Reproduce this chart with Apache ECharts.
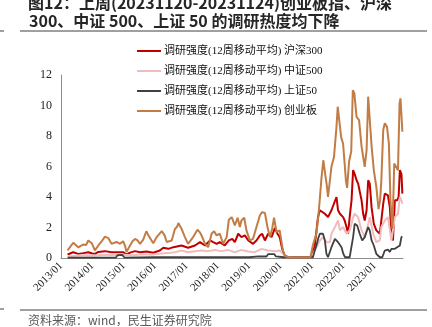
<!DOCTYPE html>
<html>
<head>
<meta charset="utf-8">
<script src="https://cdn.jsdelivr.net/npm/echarts@6/dist/echarts.min.js"></script>
<style>html,body{margin:0;padding:0;background:#fff;}#c{width:432px;height:327px;}</style>
</head>
<body>
<div id="c"></div>
<script>
// x = decimal year, y = research intensity (12-week moving average)
const seriesNames = ['调研强度(12周移动平均) 沪深300','调研强度(12周移动平均) 中证500','调研强度(12周移动平均) 上证50','调研强度(12周移动平均) 创业板'];
const yTicks = [0,2,4,6,8,10,12];
const yearTicks = [2013,2014,2015,2016,2017,2018,2019,2020,2021,2022,2023];

const hs300 = [[2013.21,0.23],[2013.39,0.38],[2013.55,0.27],[2013.71,0.32],[2013.87,0.38],[2014.0,0.3],[2014.08,0.27],[2014.19,0.4],[2014.4,0.45],[2014.61,0.38],[2014.82,0.38],[2014.98,0.38],[2015.09,0.23],[2015.2,0.35],[2015.36,0.45],[2015.52,0.38],[2015.72,0.42],[2015.94,0.34],[2016.15,0.49],[2016.26,0.67],[2016.42,0.6],[2016.58,0.71],[2016.63,0.71],[2016.84,0.82],[2017.05,0.67],[2017.27,0.82],[2017.43,1.04],[2017.59,0.82],[2017.75,1.15],[2017.85,1.04],[2017.96,0.93],[2018.06,1.04],[2018.22,0.82],[2018.35,1.15],[2018.46,1.26],[2018.54,1.04],[2018.65,1.59],[2018.75,1.37],[2018.86,1.48],[2018.97,1.15],[2019.12,0.93],[2019.23,1.15],[2019.34,1.48],[2019.41,1.59],[2019.5,1.15],[2019.6,1.59],[2019.71,1.37],[2019.82,1.98],[2019.9,1.59],[2019.97,1.37],[2020.05,0.6],[2020.13,0.16],[2020.24,0.05],[2020.5,0.05],[2020.98,0.05],[2021.09,0.82],[2021.19,2.68],[2021.25,3.13],[2021.3,3.0],[2021.41,2.9],[2021.51,2.68],[2021.62,3.13],[2021.67,3.2],[2021.78,4.0],[2021.83,3.13],[2021.89,2.9],[2021.94,3.0],[2021.99,2.68],[2022.04,2.46],[2022.1,2.03],[2022.15,1.59],[2022.2,2.68],[2022.26,3.78],[2022.31,5.76],[2022.36,5.5],[2022.42,5.1],[2022.47,4.88],[2022.52,4.88],[2022.58,3.78],[2022.63,2.9],[2022.68,2.46],[2022.74,3.13],[2022.79,5.1],[2022.84,4.88],[2022.9,3.3],[2022.97,2.24],[2023.05,1.81],[2023.16,1.59],[2023.21,2.46],[2023.27,3.56],[2023.32,4.22],[2023.42,4.1],[2023.48,3.34],[2023.53,1.59],[2023.58,1.15],[2023.64,3.78],[2023.71,3.78],[2023.76,4.0],[2023.8,5.76],[2023.85,5.5],[2023.88,4.22]];

const zz500 = [[2013.21,0.1],[2013.5,0.15],[2013.8,0.18],[2014.1,0.16],[2014.4,0.22],[2014.7,0.2],[2015.0,0.22],[2015.3,0.18],[2015.6,0.25],[2015.9,0.22],[2016.2,0.3],[2016.5,0.35],[2016.63,0.38],[2016.84,0.49],[2017.05,0.38],[2017.27,0.45],[2017.48,0.49],[2017.69,0.45],[2017.9,0.53],[2018.11,0.45],[2018.32,0.53],[2018.54,0.38],[2018.75,0.53],[2018.97,0.42],[2019.18,0.38],[2019.39,0.6],[2019.6,0.49],[2019.82,0.45],[2019.97,0.49],[2020.08,0.27],[2020.18,0.05],[2020.5,0.05],[2020.98,0.05],[2021.14,0.71],[2021.25,1.15],[2021.35,1.37],[2021.46,1.04],[2021.57,1.04],[2021.62,1.59],[2021.73,2.03],[2021.83,2.46],[2021.89,1.81],[2021.99,2.03],[2022.1,1.59],[2022.2,1.81],[2022.26,2.24],[2022.31,2.68],[2022.36,2.9],[2022.47,2.68],[2022.58,1.81],[2022.68,1.37],[2022.74,1.81],[2022.79,2.24],[2022.84,2.68],[2022.95,1.59],[2023.05,1.04],[2023.16,1.15],[2023.21,2.03],[2023.32,2.46],[2023.42,2.68],[2023.53,1.15],[2023.58,1.15],[2023.64,2.68],[2023.74,2.9],[2023.8,4.0],[2023.85,3.78],[2023.88,3.56]];

const sz50 = [[2013.21,0.03],[2014.0,0.03],[2014.75,0.03],[2014.8,0.18],[2014.95,0.2],[2015.02,0.03],[2016.0,0.05],[2017.0,0.05],[2018.0,0.06],[2019.0,0.05],[2019.3,0.1],[2019.55,0.1],[2019.6,0.25],[2019.8,0.25],[2019.85,0.1],[2020.1,0.05],[2020.95,0.05],[2021.03,0.05],[2021.09,0.5],[2021.14,0.82],[2021.2,1.3],[2021.25,1.59],[2021.35,1.59],[2021.41,1.15],[2021.46,0.27],[2021.51,0.05],[2021.62,0.71],[2021.73,1.26],[2021.83,1.04],[2021.94,0.71],[2022.0,0.27],[2022.05,0.05],[2022.2,0.05],[2022.31,1.37],[2022.36,2.24],[2022.44,2.13],[2022.52,1.59],[2022.6,1.15],[2022.68,1.37],[2022.79,2.03],[2022.84,1.81],[2022.9,1.15],[2022.97,0.82],[2023.05,0.27],[2023.16,0.05],[2023.24,0.05],[2023.32,0.49],[2023.42,0.55],[2023.48,0.4],[2023.53,0.6],[2023.64,0.6],[2023.69,0.71],[2023.8,0.82],[2023.85,1.37],[2023.88,1.4]];

const cyb = [[2013.21,0.5],[2013.39,1.0],[2013.47,0.85],[2013.55,0.7],[2013.63,0.8],[2013.71,0.88],[2013.8,0.85],[2013.87,1.15],[2013.93,1.05],[2013.98,0.97],[2014.04,0.7],[2014.08,0.5],[2014.19,0.82],[2014.3,1.1],[2014.4,1.4],[2014.46,1.35],[2014.51,1.3],[2014.61,0.93],[2014.7,1.0],[2014.77,1.05],[2014.83,0.95],[2014.88,0.93],[2014.98,1.1],[2015.04,0.8],[2015.09,0.4],[2015.2,0.82],[2015.28,1.1],[2015.36,1.25],[2015.44,1.15],[2015.52,0.93],[2015.62,1.2],[2015.72,1.75],[2015.78,1.5],[2015.83,1.37],[2015.94,0.97],[2016.05,1.37],[2016.21,1.76],[2016.3,1.5],[2016.37,1.05],[2016.45,1.1],[2016.53,1.15],[2016.63,1.9],[2016.7,2.05],[2016.74,2.29],[2016.84,1.92],[2016.95,1.37],[2017.05,0.93],[2017.21,1.37],[2017.35,1.85],[2017.42,1.7],[2017.48,1.48],[2017.59,0.93],[2017.69,0.71],[2017.8,1.59],[2017.88,1.76],[2017.96,1.48],[2018.06,1.59],[2018.17,0.93],[2018.28,1.37],[2018.35,2.51],[2018.44,2.68],[2018.54,2.14],[2018.63,2.64],[2018.7,2.03],[2018.75,2.46],[2018.84,2.64],[2018.91,1.81],[2019.02,1.15],[2019.12,1.26],[2019.23,2.03],[2019.34,2.8],[2019.41,3.01],[2019.5,2.95],[2019.58,2.03],[2019.66,1.37],[2019.73,1.92],[2019.79,2.64],[2019.87,1.7],[2019.97,1.81],[2020.03,1.04],[2020.08,0.38],[2020.16,0.1],[2020.3,0.05],[2020.5,0.05],[2020.7,0.05],[2020.95,0.05],[2021.03,0.85],[2021.14,1.6],[2021.2,2.7],[2021.25,3.9],[2021.3,5.2],[2021.36,6.41],[2021.42,5.5],[2021.47,4.8],[2021.51,4.0],[2021.57,4.0],[2021.62,6.0],[2021.7,6.6],[2021.78,8.6],[2021.82,9.92],[2021.87,9.0],[2021.93,7.9],[2021.99,7.5],[2022.04,6.2],[2022.08,5.1],[2022.12,4.6],[2022.18,6.3],[2022.25,7.0],[2022.3,11.0],[2022.35,10.8],[2022.42,9.26],[2022.5,9.04],[2022.58,7.3],[2022.68,5.97],[2022.74,7.07],[2022.79,10.58],[2022.84,10.6],[2022.9,7.3],[2022.97,5.76],[2023.05,4.66],[2023.12,3.2],[2023.17,3.78],[2023.21,5.1],[2023.27,8.39],[2023.32,8.83],[2023.39,8.6],[2023.45,7.5],[2023.5,3.78],[2023.56,1.9],[2023.6,4.5],[2023.62,6.2],[2023.68,6.2],[2023.74,5.76],[2023.79,10.14],[2023.82,10.47],[2023.88,8.28]];

const colors = ['#C00000', '#F2BCBC', '#404040', '#C27C45'];
const dataList = [hs300, zz500, sz50, cyb];

const chart = echarts.init(document.getElementById('c'), null, {renderer: 'canvas'});
const serifFont = "'Liberation Serif', 'Times New Roman', 'Noto Sans CJK SC', serif";

chart.setOption({
  animation: false,
  backgroundColor: '#fff',
  grid: {left: 61, right: 29, top: 75, bottom: 69, containLabel: false},
  legend: {
    orient: 'vertical',
    left: 132, top: 40,
    itemWidth: 24, itemHeight: 2, itemGap: 8,
    icon: 'rect',
    textStyle: {fontFamily: serifFont, fontSize: 11, lineHeight: 12, color: '#111', padding: [0,0,0,-2]},
    data: seriesNames
  },
  xAxis: {
    type: 'value',
    min: 2013, max: 2023.9, interval: 1,
    axisLine: {show: true, lineStyle: {color: '#8c8c8c', width: 1}},
    axisTick: {show: false},
    splitLine: {show: false},
    axisLabel: {
      rotate: 45, margin: 6, fontFamily: serifFont, fontSize: 11, color: '#222',
      showMaxLabel: false,
      formatter: v => yearTicks.includes(Math.round(v * 1000) / 1000) ? v + '/01' : ''
    }
  },
  yAxis: {
    type: 'value', min: 0, max: 12, interval: 2,
    axisLine: {show: true, lineStyle: {color: '#8c8c8c', width: 1}},
    axisTick: {show: false},
    splitLine: {show: false},
    axisLabel: {margin: 9, fontFamily: serifFont, fontSize: 12, color: '#222',
      formatter: v => yTicks.includes(v) ? String(v) : ''}
  },
  series: dataList.map((d, i) => ({
    name: seriesNames[i],
    type: 'line',
    data: d,
    showSymbol: false,
    symbol: 'none',
    lineStyle: {color: colors[i], width: i === 2 ? 1.8 : 2},
    itemStyle: {color: colors[i]},
    z: 2 + i
  })),
  graphic: [
    {type: 'text', left: 28, top: -5, style: {text: '图12：上周(20231120-20231124)创业板指、沪深', font: "bold 16px 'Noto Sans CJK SC'", fill: '#262626'}},
    {type: 'text', left: 29, top: 13, style: {text: '300、中证 500、上证 50 的调研热度均下降', font: "bold 16px 'Noto Sans CJK SC'", fill: '#262626'}},
    {type: 'line', shape: {x1: 20, y1: 31, x2: 427, y2: 31}, style: {stroke: '#404040', lineWidth: 1}},
    {type: 'line', shape: {x1: 0, y1: 31, x2: 4, y2: 31}, style: {stroke: '#404040', lineWidth: 1}},
    {type: 'line', shape: {x1: 20, y1: 310, x2: 427, y2: 310}, style: {stroke: '#404040', lineWidth: 1}},
    {type: 'line', shape: {x1: 0, y1: 309, x2: 4, y2: 309}, style: {stroke: '#404040', lineWidth: 1}},
    {type: 'text', left: 28, top: 314, style: {text: '资料来源：wind，民生证券研究院', font: "12px 'Noto Sans CJK SC'", fill: '#595959'}}
  ]
});
</script>
</body>
</html>
